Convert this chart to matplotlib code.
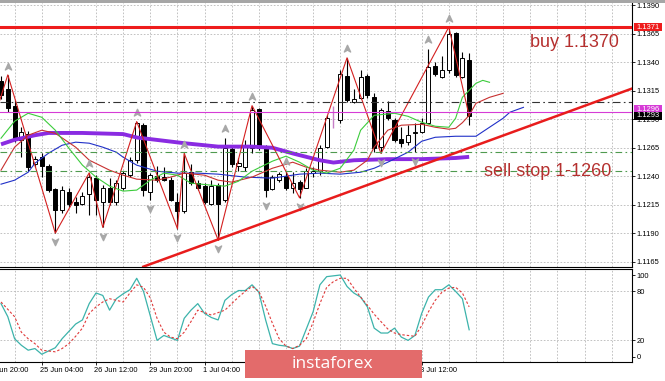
import matplotlib
matplotlib.use("Agg")
import matplotlib.pyplot as plt
import matplotlib.transforms as mtransforms
from matplotlib.patches import Rectangle
from matplotlib.path import Path

plt.rcParams["font.family"] = ["Liberation Sans", "DejaVu Sans"]

# EURUSD H4 bars, oldest first
opens = [1.1324, 1.1317, 1.1302, 1.1272, 1.1277, 1.1251, 1.1257, 1.1249, 1.1229, 1.1210,
         1.1226, 1.1217, 1.1216, 1.1224, 1.1238, 1.1217, 1.1230, 1.1217, 1.1230, 1.1241,
         1.1254, 1.1285, 1.1226, 1.1240, 1.1239, 1.1237, 1.1217, 1.1209, 1.1244, 1.1234,
         1.1231, 1.1216, 1.1232, 1.1219, 1.1264, 1.1249, 1.1248, 1.1265, 1.1299, 1.1266,
         1.1229, 1.1237, 1.1240, 1.1230, 1.1235, 1.1230, 1.1243, 1.1245, 1.1266, 1.1293,
         1.1289, 1.1328, 1.1305, 1.1309, 1.1328, 1.1310, 1.1266, 1.1297, 1.1289, 1.1273,
         1.1270, 1.1278, 1.1279, 1.1287, 1.1337, 1.1327, 1.1333, 1.1366, 1.1327, 1.1342]
highs = [1.1328, 1.1329, 1.1307, 1.1283, 1.1280, 1.1258, 1.1260, 1.1251, 1.1230, 1.1231,
         1.1230, 1.1222, 1.1226, 1.1243, 1.1241, 1.1232, 1.1238, 1.1237, 1.1245, 1.1257,
         1.1288, 1.1287, 1.1243, 1.1249, 1.1248, 1.1239, 1.1225, 1.1260, 1.1251, 1.1237,
         1.1234, 1.1237, 1.1234, 1.1274, 1.1266, 1.1256, 1.1272, 1.1302, 1.1300, 1.1267,
         1.1241, 1.1244, 1.1245, 1.1244, 1.1237, 1.1247, 1.1248, 1.1267, 1.1294, 1.1302,
         1.1333, 1.1344, 1.1317, 1.1333, 1.1330, 1.1313, 1.1300, 1.1306, 1.1291, 1.1283,
         1.1285, 1.1287, 1.1291, 1.1352, 1.1340, 1.1346, 1.1371, 1.1367, 1.1349, 1.1348]
lows = [1.1308, 1.1296, 1.1270, 1.1257, 1.1245, 1.1248, 1.1239, 1.1226, 1.1190, 1.1208,
        1.1213, 1.1208, 1.1215, 1.1206, 1.1206, 1.1195, 1.1215, 1.1215, 1.1228, 1.1239,
        1.1252, 1.1223, 1.1219, 1.1235, 1.1236, 1.1218, 1.1194, 1.1208, 1.1232, 1.1228,
        1.1216, 1.1215, 1.1184, 1.1217, 1.1248, 1.1245, 1.1245, 1.1260, 1.1263, 1.1222,
        1.1228, 1.1235, 1.1228, 1.1225, 1.1221, 1.1230, 1.1239, 1.1241, 1.1265, 1.1282,
        1.1287, 1.1305, 1.1304, 1.1308, 1.1309, 1.1261, 1.1260, 1.1289, 1.1270, 1.1266,
        1.1267, 1.1261, 1.1278, 1.1287, 1.1328, 1.1326, 1.1331, 1.1327, 1.1326, 1.1285]
closes = [1.1311, 1.1300, 1.1273, 1.1279, 1.1248, 1.1255, 1.1249, 1.1228, 1.1210, 1.1228,
          1.1216, 1.1215, 1.1223, 1.1239, 1.1219, 1.1230, 1.1217, 1.1234, 1.1243, 1.1254,
          1.1287, 1.1228, 1.1241, 1.1237, 1.1237, 1.1219, 1.1209, 1.1243, 1.1234, 1.1230,
          1.1217, 1.1231, 1.1216, 1.1265, 1.1251, 1.1252, 1.1266, 1.1298, 1.1265, 1.1228,
          1.1239, 1.1242, 1.1230, 1.1234, 1.1229, 1.1245, 1.1245, 1.1265, 1.1291, 1.1293,
          1.1330, 1.1307, 1.1308, 1.1327, 1.1311, 1.1265, 1.1298, 1.1291, 1.1272, 1.1269,
          1.1276, 1.1279, 1.1287, 1.1336, 1.1330, 1.1333, 1.1365, 1.1329, 1.1344, 1.1293]
pink_bar = 49

# Alligator (shifted forward past the last bar)
lips_x = [0, 2, 4, 6, 8, 10, 12, 14, 16, 18, 20, 22, 24, 26, 28, 31, 33, 35, 37, 40, 42, 44,
          46, 48, 50, 52, 53, 55, 58, 60, 62, 64, 66, 67, 68, 70, 71, 72]
lips_y = [1.12734, 1.12883, 1.12953, 1.12918, 1.12804, 1.12646, 1.12497, 1.12392, 1.12313,
          1.12269, 1.12278, 1.12365, 1.12427, 1.12409, 1.12339, 1.12321, 1.12313, 1.12356,
          1.12444, 1.12532, 1.12576, 1.12523, 1.12453, 1.12427, 1.12470, 1.12628, 1.12804,
          1.12935, 1.12953, 1.12926, 1.12874, 1.12839, 1.12830, 1.12909, 1.13093, 1.13216,
          1.13242, 1.13225]
teeth_x = [0, 2, 4, 6, 8, 11, 13, 16, 18, 20, 23, 25, 27, 30, 32, 34, 37, 40, 43, 45, 47, 50,
           52, 54, 55, 57, 59, 62, 64, 66, 67, 68, 69, 70, 72, 74]
teeth_y = [1.12453, 1.12655, 1.12760, 1.12804, 1.12777, 1.12655, 1.12541, 1.12453, 1.12409,
           1.12374, 1.12365, 1.12392, 1.12427, 1.12409, 1.12365, 1.12348, 1.12392, 1.12470,
           1.12523, 1.12479, 1.12453, 1.12435, 1.12453, 1.12541, 1.12655, 1.12804, 1.12848,
           1.12856, 1.12830, 1.12813, 1.12821, 1.12870, 1.12935, 1.13040, 1.13093, 1.13128]
jaw_x = [0, 2, 4, 5, 7, 9, 11, 13, 15, 17, 18, 20, 23, 26, 29, 32, 36, 40, 44, 47, 50, 53,
         55, 57, 60, 62, 64, 67, 70, 72, 74, 75, 77]
jaw_y = [1.12330, 1.12365, 1.12435, 1.12514, 1.12602, 1.12672, 1.12699, 1.12690, 1.12655,
         1.12611, 1.12567, 1.12497, 1.12444, 1.12427, 1.12427, 1.12418, 1.12392, 1.12383,
         1.12418, 1.12427, 1.12418, 1.12435, 1.12470, 1.12523, 1.12611, 1.12707, 1.12742,
         1.12751, 1.12751, 1.12830, 1.12909, 1.12962, 1.13005]

# slow moving average (purple)
ma_x = [0, 2, 5, 7, 12, 18, 20, 27, 32, 37, 40, 43, 47, 49, 52, 57, 62, 67, 69]
ma_y = [1.1268, 1.1272, 1.1276, 1.1278, 1.1278, 1.1277, 1.1274, 1.1269, 1.1266, 1.1266,
        1.1265, 1.1260, 1.1254, 1.1252, 1.1254, 1.1255, 1.1255, 1.1256, 1.1257]

# ZigZag swing points
zz_x = [-3, 1, 8, 13, 15, 20, 26, 27, 32, 37, 44, 51, 56, 66, 69]
zz_y = [1.1254, 1.1329, 1.1190, 1.1243, 1.1195, 1.1288, 1.1194, 1.1260, 1.1184, 1.1302,
        1.1221, 1.1344, 1.1260, 1.1371, 1.1293]

fractal_up = [1, 13, 20, 27, 33, 37, 42, 51, 63, 66]
fractal_down = [8, 15, 22, 26, 32, 39, 44, 56, 61]

# drawn objects
buy_level = 1.1371
dashdot_level = 1.13055
magenta_level = 1.1296
green_levels = [1.1261, 1.1245]
trend_x = [21.2, 93.0]
trend_y = [1.1161, 1.1317]

# Stochastic
stoch_main = [65, 49, 22, 14, 8, 10, 3, 7, 11, 22, 31, 40, 45, 65, 78, 75, 57, 71, 77, 82,
              96, 80, 50, 20, 26, 23, 20, 47, 57, 65, 53, 48, 45, 69, 76, 81, 81, 88, 79, 45,
              16, 14, 13, 10, 13, 34, 55, 88, 98, 99, 100, 86, 78, 73, 61, 35, 29, 29, 35, 24,
              20, 26, 53, 73, 82, 82, 88, 80, 71, 33]
stoch_signal = [67, 58, 49, 30, 22, 16, 8, 7, 6, 10, 16, 25, 35, 53, 61, 67, 71, 69, 67, 78,
                88, 85, 72, 47, 30, 24, 22, 30, 43, 57, 54, 51, 54, 57, 65, 73, 80, 86, 80, 62,
                41, 22, 13, 10, 14, 22, 42, 65, 85, 92, 96, 96, 84, 73, 63, 52, 43, 34, 29, 27,
                26, 25, 38, 55, 69, 79, 84, 85, 78, 61]

price_ticks = [1.1165, 1.1190, 1.1215, 1.1240, 1.1265, 1.1290, 1.1315, 1.1340, 1.1365, 1.1390]
time_ticks = [6, 14, 22, 30, 38, 46, 54, 62]
# labels that are not hidden by the watermark
label_pos = [6, 14, 22, 30, 62]
label_text = ["25 Jun 04:00", "26 Jun 12:00", "29 Jun 20:00", "1 Jul 04:00", "8 Jul 12:00"]
first_label = "24 Jun 20:00"

W, H = 665, 381
fig = plt.figure(figsize=(W / 100, H / 100), dpi=100)
fig.patch.set_facecolor("white")

ax = fig.add_axes([0, 1 - 266.7 / H, 632 / W, (266.7 - 2.5) / H])
ax2 = fig.add_axes([0, 1 - 361.7 / H, 632 / W, (361.7 - 269.3) / H])

grid_kw = dict(color="#b8b8b8", lw=0.6, ls=(0, (2, 2)), zorder=0)
for a in (ax, ax2):
    a.set_xlim(-0.15, 93.0)
    for g in range(2, 93, 4):
        a.axvline(g, **grid_kw)
    for s in ("left", "top"):
        a.spines[s].set_visible(False)
    for s in ("right", "bottom"):
        a.spines[s].set_linewidth(0.8)
    a.yaxis.tick_right()
    a.tick_params(axis="y", length=2, width=0.6, pad=1.5, labelsize=5.4)
ax2.spines["top"].set_visible(True)
ax2.spines["top"].set_linewidth(0.8)

ax.set_ylim(1.11605, 1.13926)
ax.set_yticks(price_ticks)
ax.set_yticklabels([f"{t:.4f}" for t in price_ticks])
ax.set_xticks([])
for t in price_ticks:
    ax.axhline(t, **grid_kw)

# candles
for i, (o, h, l, c) in enumerate(zip(opens, highs, lows, closes)):
    if i == pink_bar:
        ax.vlines(i, l, h, color="#c77fc7", lw=1.0, zorder=2)
        continue
    ax.vlines(i, l, h, color="black", lw=0.8, zorder=2)
    body = Rectangle((i - 0.3, min(o, c)), 0.6, max(abs(c - o), 0.00002),
                     facecolor="white" if c >= o else "black", edgecolor="black",
                     lw=0.7, zorder=2.5)
    ax.add_patch(body)

ax.plot(ma_x, ma_y, color="#8a2be2", lw=2.8, zorder=3, solid_capstyle="butt")
ax.plot(jaw_x, jaw_y, color="#2030c8", lw=0.8, zorder=3)
ax.plot(teeth_x, teeth_y, color="#c83030", lw=0.8, zorder=3)
ax.plot(lips_x, lips_y, color="#3ccc3c", lw=0.8, zorder=3)
ax.plot(zz_x, zz_y, color="#d42020", lw=0.8, zorder=3.2)

up_arrow = Path([(0, 1), (0.75, -0.6), (0, -0.15), (-0.75, -0.6), (0, 1)],
                [Path.MOVETO, Path.LINETO, Path.LINETO, Path.LINETO, Path.CLOSEPOLY])
down_arrow = Path([(0, -1), (0.75, 0.6), (0, 0.15), (-0.75, 0.6), (0, -1)],
                  [Path.MOVETO, Path.LINETO, Path.LINETO, Path.LINETO, Path.CLOSEPOLY])
up_tr = mtransforms.offset_copy(ax.transData, fig=fig, y=6, units="points")
dn_tr = mtransforms.offset_copy(ax.transData, fig=fig, y=-6, units="points")
ax.plot(fractal_up, [highs[i] for i in fractal_up], ls="none", marker=up_arrow, ms=6,
        color="#a8a8a8", transform=up_tr, zorder=3)
ax.plot(fractal_down, [lows[i] for i in fractal_down], ls="none", marker=down_arrow, ms=6,
        color="#a8a8a8", transform=dn_tr, zorder=3)

# levels and trend line
ax.axhline(buy_level, color="#ee1c1c", lw=2.2, zorder=4)
ax.axhline(dashdot_level, color="#333333", lw=0.8, ls=(0, (7, 3, 1.5, 3)), zorder=4)
ax.axhline(magenta_level, color="#d63bd6", lw=0.8, zorder=4)
for g in green_levels:
    ax.axhline(g, color="#4f9a4f", lw=0.8, ls=(0, (6, 3, 1.5, 3)), zorder=4)
ax.axline((trend_x[0], trend_y[0]), (trend_x[1], trend_y[1]), color="#e81c1c", lw=1.8,
          zorder=4)

ax.text(77.95, 1.13534, "buy 1.1370", fontsize=13, color="#b5302f", ha="left",
        va="baseline", zorder=5)
ax.text(71.2, 1.12400, "sell stop 1-1260", fontsize=13, color="#b5302f", ha="left",
        va="baseline", zorder=5)

# price boxes on the right scale
box_tr = mtransforms.blended_transform_factory(fig.transFigure, ax.transData)
for price, fc, txt in [(buy_level, "#ee1c1c", "1.1371"),
                       (magenta_level + 0.0003, "#d63bd6", "1.1296"),
                       (closes[-1], "#000000", "1.1293")]:
    rect = Rectangle((634 / W, price - 0.00037), 28 / W, 0.00074, transform=box_tr,
                     facecolor=fc, edgecolor="none", clip_on=False, zorder=6)
    fig.add_artist(rect)
    fig.text(648 / W, price, txt, transform=box_tr, color="white", fontsize=5.4,
             ha="center", va="center", zorder=7)

# stochastic panel
ax2.set_ylim(-6.1, 107)
ax2.set_yticks([0, 20, 80, 100])
ax2.set_yticklabels(["0", "20", "80", "100"])
for lv in (20, 80):
    ax2.axhline(lv, **grid_kw)
bars = list(range(len(stoch_main)))
ax2.plot(bars, stoch_main, color="#3cb3ab", lw=0.9, zorder=3)
ax2.plot(bars, stoch_signal, color="#e03a3a", lw=0.8, ls=(0, (2.2, 1.8)), zorder=3)

ax2.set_xticks(time_ticks)
ax2.set_xticklabels([])
ax2.tick_params(axis="x", length=2, width=0.6)
lab_tr = mtransforms.blended_transform_factory(ax2.transData, fig.transFigure)
for p, lab in zip(label_pos, label_text):
    ax2.text(p - 0.25, 1 - 370 / H, lab, transform=lab_tr, fontsize=5.4, ha="left",
             va="center", clip_on=False)
ax2.text(-2.35, 1 - 370 / H, first_label, transform=lab_tr, fontsize=5.4, ha="left",
         va="center", clip_on=False)

# window frame and watermark
fig.add_artist(Rectangle((0, 1 - 2.5 / H), 1, 2.5 / H, transform=fig.transFigure,
                         facecolor="#a6a6a6", edgecolor="none"))
fig.add_artist(Rectangle((245 / W, 1 - 378 / H), 177 / W, 28 / H, transform=fig.transFigure,
                         facecolor="#e36b6b", edgecolor="none", zorder=8))
fig.text(332 / W, 1 - 364 / H, "instaforex", color="white", fontsize=12.5,
         family="Open Sans", ha="center", va="center", zorder=9)

fig.savefig("out.png", dpi=100)
